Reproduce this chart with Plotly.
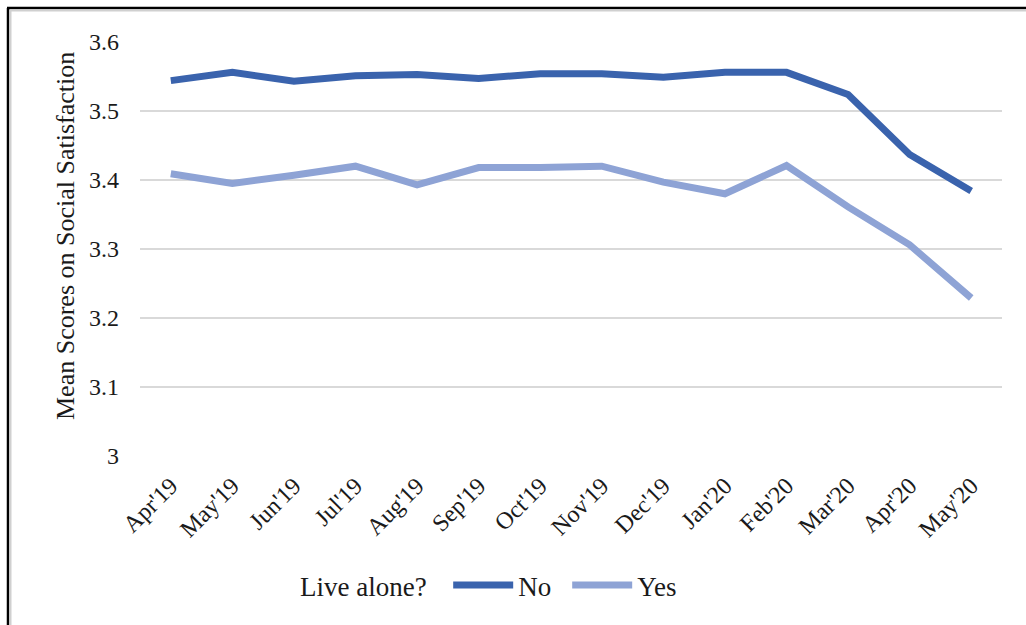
import plotly.graph_objects as go

# Monthly mean social-satisfaction scores, split by living arrangement
months = ["Apr'19", "May'19", "Jun'19", "Jul'19", "Aug'19", "Sep'19", "Oct'19",
          "Nov'19", "Dec'19", "Jan'20", "Feb'20", "Mar'20", "Apr'20", "May'20"]
live_alone_no = [3.544, 3.556, 3.543, 3.551, 3.553, 3.547, 3.554,
                 3.554, 3.549, 3.556, 3.556, 3.524, 3.437, 3.384]
live_alone_yes = [3.409, 3.395, 3.407, 3.420, 3.393, 3.418, 3.418,
                  3.420, 3.397, 3.380, 3.421, 3.361, 3.306, 3.229]
y_ticks = [3.0, 3.1, 3.2, 3.3, 3.4, 3.5, 3.6]
y_tick_text = ["3", "3.1", "3.2", "3.3", "3.4", "3.5", "3.6"]

SERIF = "Liberation Serif, Times New Roman, serif"
DARK_BLUE = "#3a63ad"
LIGHT_BLUE = "#8ea3d5"

fig = go.Figure()
fig.add_trace(go.Scatter(x=months, y=live_alone_no, name="No", mode="lines",
                         line=dict(color=DARK_BLUE, width=7)))
fig.add_trace(go.Scatter(x=months, y=live_alone_yes, name="Yes", mode="lines",
                         line=dict(color=LIGHT_BLUE, width=7)))

W, H = 1026, 625
ML, MR, MT, MB = 140, 24, 42, 169
pw, ph = W - ML - MR, H - MT - MB


def px_x(p):
    return (p - ML) / pw


def px_y(p):
    return (H - MB - p) / ph


# Frame around the figure: black rule on the left and top with a soft grey edge
frame = []
frame.append(dict(type="line", xref="paper", yref="paper",
                  x0=px_x(8), x1=px_x(8), y0=px_y(8), y1=px_y(H + 5),
                  line=dict(color="black", width=2.5)))
frame.append(dict(type="line", xref="paper", yref="paper",
                  x0=px_x(7), x1=px_x(W + 5), y0=px_y(8), y1=px_y(8),
                  line=dict(color="black", width=2.5)))
frame.append(dict(type="line", xref="paper", yref="paper",
                  x0=px_x(10.5), x1=px_x(10.5), y0=px_y(10), y1=px_y(H + 5),
                  line=dict(color="#d0d0d0", width=2)))
frame.append(dict(type="line", xref="paper", yref="paper",
                  x0=px_x(10), x1=px_x(W + 5), y0=px_y(10.5), y1=px_y(10.5),
                  line=dict(color="#d0d0d0", width=2)))

# Y-axis title as a rotated annotation so it can sit slightly above centre
y_title = dict(text="Mean Scores on Social Satisfaction", textangle=-90,
               xref="paper", yref="paper", x=px_x(65), y=px_y(236),
               xanchor="center", yanchor="middle", showarrow=False,
               font=dict(size=26, family=SERIF, color="#1a1a1a"))

fig.update_layout(
    width=W, height=H,
    margin=dict(l=ML, r=MR, t=MT, b=MB, autoexpand=False),
    paper_bgcolor="white", plot_bgcolor="white",
    font=dict(family=SERIF, color="#1a1a1a", size=24),
    shapes=frame,
    annotations=[y_title],
    showlegend=True,
    legend=dict(
        orientation="h", x=px_x(298), y=px_y(561), xanchor="left", yanchor="top",
        title=dict(text="Live alone?  ", font=dict(size=27, family=SERIF)),
        font=dict(size=27, family=SERIF), itemwidth=60,
        entrywidth=44, entrywidthmode="pixels",
        bgcolor="rgba(0,0,0,0)",
    ),
    xaxis=dict(
        type="category", range=[-0.5, len(months) - 0.5], tickangle=-45,
        showgrid=False, showline=False, zeroline=False, ticks="",
        tickfont=dict(size=24, family=SERIF), ticklabelstandoff=10,
    ),
    yaxis=dict(
        range=[3.0, 3.6], tickvals=y_ticks, ticktext=y_tick_text,
        showgrid=True, gridcolor="#d9d9d9", gridwidth=2, zeroline=False,
        showline=False, ticks="", tickfont=dict(size=24, family=SERIF),
        ticklabelstandoff=20,
    ),
)

fig.write_html("out.html")
